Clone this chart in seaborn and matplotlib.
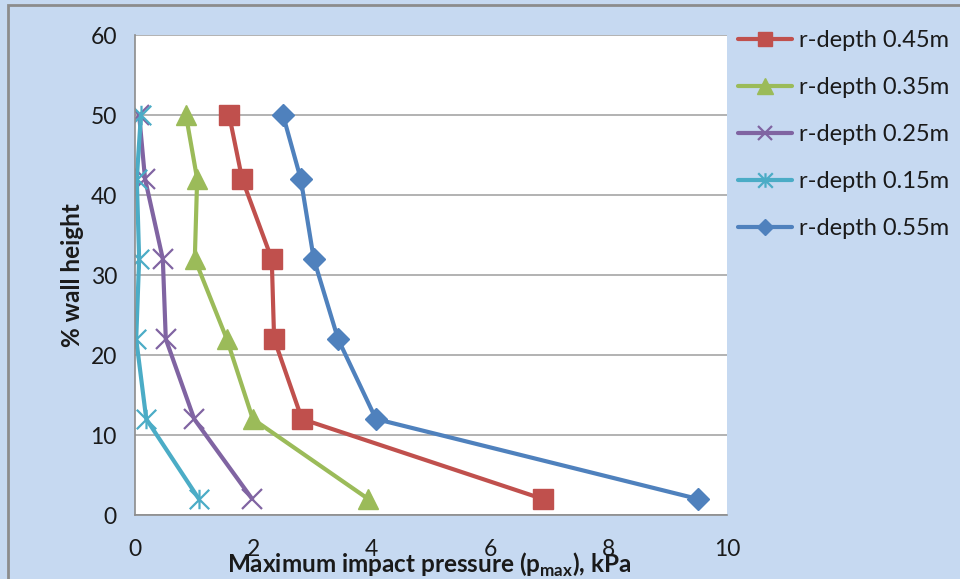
import matplotlib
matplotlib.use("Agg")
import matplotlib.pyplot as plt
import seaborn as sns
import pandas as pd
from matplotlib.path import Path
from matplotlib.patches import Rectangle

# ---- data ----
wall_height = [50, 42, 32, 22, 12, 2]
p_045 = [1.59, 1.81, 2.31, 2.35, 2.82, 6.89]
p_035 = [0.86, 1.05, 1.01, 1.55, 1.99, 3.94]
p_025 = [0.07, 0.17, 0.47, 0.52, 1.00, 1.98]
p_015 = [0.10, 0.03, 0.07, 0.02, 0.19, 1.08]
p_055 = [2.50, 2.80, 3.02, 3.43, 4.07, 9.51]
series_labels = ["r-depth 0.45m", "r-depth 0.35m", "r-depth 0.25m",
                 "r-depth 0.15m", "r-depth 0.55m"]
series_values = [p_045, p_035, p_025, p_015, p_055]
x_ticks = [0, 2, 4, 6, 8, 10]
y_ticks = [0, 10, 20, 30, 40, 50, 60]

# ---- style ----
sns.set_theme(style="white")
plt.rcParams["font.family"] = ["Lato", "DejaVu Sans"]
plt.rcParams["mathtext.fontset"] = "custom"
plt.rcParams["mathtext.bf"] = "Lato:bold"
plt.rcParams["mathtext.rm"] = "Lato"

bg = "#C6D9F1"
colors = ["#C0504D", "#9BBB59", "#8064A2", "#4BACC6", "#4F81BD"]
asterisk = Path([(-1, -1), (1, 1), (-1, 1), (1, -1), (0, -1), (0, 1)],
                [Path.MOVETO, Path.LINETO, Path.MOVETO, Path.LINETO,
                 Path.MOVETO, Path.LINETO])
markers = ["s", "^", "x", asterisk, "D"]
msizes = [14, 15, 14, 14, 11]
mews = [1, 1, 1.6, 1.6, 1]

fig = plt.figure(figsize=(9.6, 5.79), dpi=100, facecolor=bg)
ax = fig.add_axes([135 / 960, 1 - 515 / 579, 592 / 960, 480 / 579])
ax.set_facecolor("white")

for lab, vals, c, m, ms, mw in zip(series_labels, series_values, colors,
                                   markers, msizes, mews):
    df = pd.DataFrame({"p": vals, "h": wall_height})
    sns.lineplot(data=df, x="p", y="h", ax=ax, sort=False, estimator=None,
                 color=c, lw=3, marker=m, markersize=ms,
                 markeredgecolor=c, markerfacecolor=c, markeredgewidth=mw,
                 label=lab, legend=False)

ax.set_xlim(0, 10)
ax.set_ylim(0, 60)
ax.set_xticks(x_ticks)
ax.set_yticks(y_ticks)
ax.yaxis.grid(True, color="#A6A6A6", lw=1.2)
ax.xaxis.grid(False)
for s in ["top", "right"]:
    ax.spines[s].set_visible(False)
for s in ["left", "bottom"]:
    ax.spines[s].set_color("#8C8C8C")
    ax.spines[s].set_linewidth(1.2)
ax.tick_params(axis="both", direction="out", length=7, width=1.2,
               color="#8C8C8C", labelsize=16.5, labelcolor="#1a1a1a")
ax.tick_params(axis="x", pad=10)
ax.tick_params(axis="y", pad=6)

ax.set_xlabel(r"Maximum impact pressure (p$_{\mathbf{max}}$), kPa",
              fontsize=17.5, fontweight="bold", color="#1a1a1a")
ax.xaxis.set_label_coords(0.497, -0.075)
ax.set_ylabel("% wall height", fontsize=17.5, fontweight="bold", color="#1a1a1a")
ax.yaxis.set_label_coords(-0.086, 0.5)

handles, labels = ax.get_legend_handles_labels()
leg = fig.legend(handles, labels, loc="upper left",
                 bbox_to_anchor=(738 / 960, 1 - 30 / 579), frameon=False,
                 fontsize=17, labelspacing=1.1, handlelength=2.3,
                 handletextpad=0.3, borderpad=0, borderaxespad=0,
                 markerscale=0.75)
for t in leg.get_texts():
    t.set_color("#1a1a1a")

# figure border (left & top)
fig.add_artist(Rectangle((8 / 960, -0.05), 1.2, 1 - 5 / 579 + 0.05,
                         transform=fig.transFigure, fill=False,
                         edgecolor="#8C8C8C", lw=2))

fig.savefig("out.png", dpi=100, facecolor=bg)
